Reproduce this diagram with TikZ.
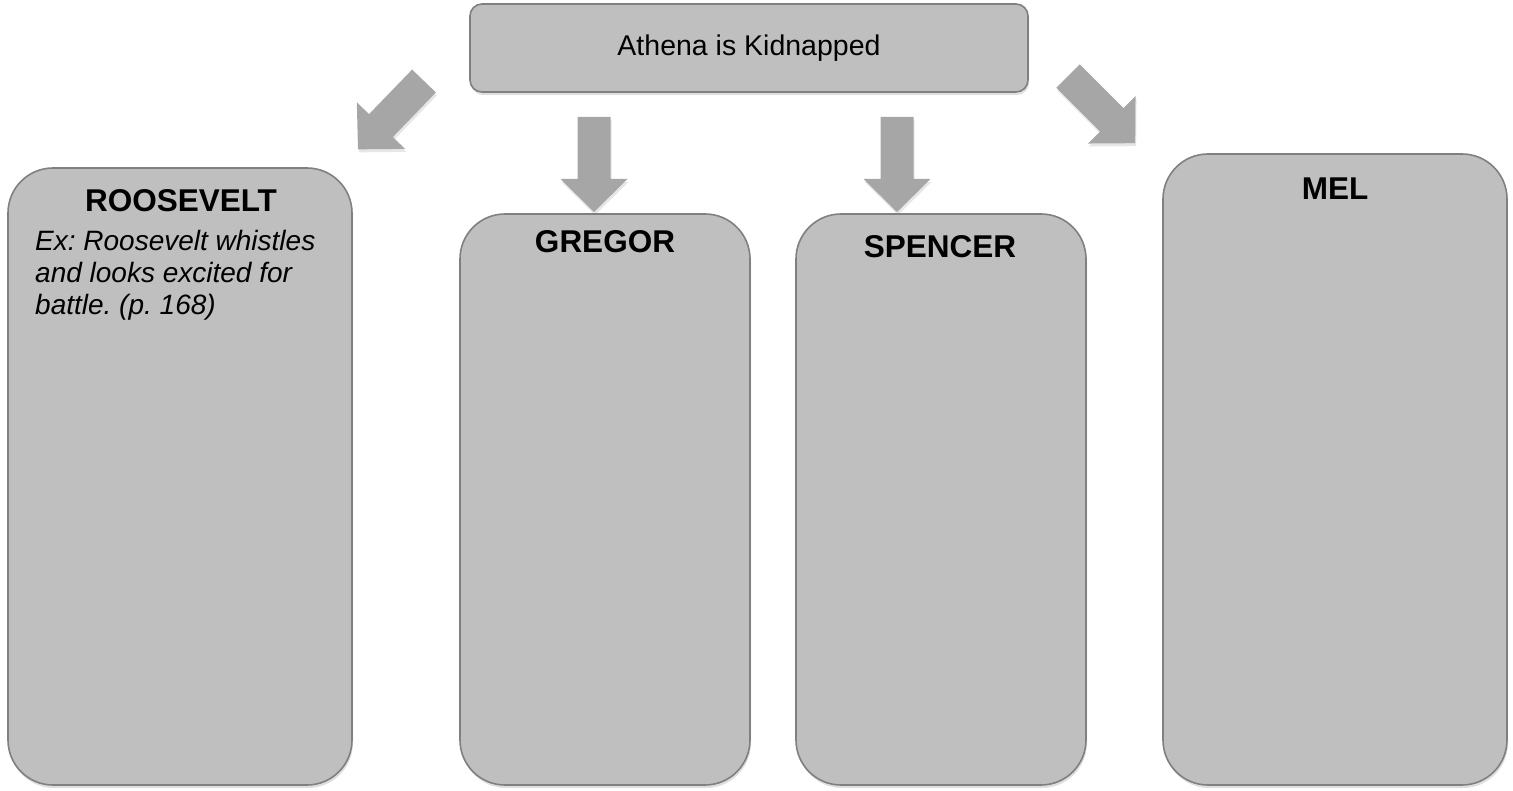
\documentclass[tikz,border=0pt]{standalone}
\usepackage{fontspec}
\setmainfont{Liberation Sans}
\usepackage{tikz}
\usetikzlibrary{shadows}

\definecolor{boxfill}{RGB}{191,191,191}
\definecolor{boxline}{RGB}{128,128,128}
\definecolor{arrowfill}{RGB}{166,166,166}

\tikzset{
  bigarrow/.pic={
    \fill[arrowfill,drop shadow={shadow xshift=1pt,shadow yshift=-3pt,opacity=0.2}]
      (0,-16.5) -- (62,-16.5) -- (62,-33.5) -- (95,0) -- (62,33.5) -- (62,16.5) -- (0,16.5) -- cycle;
  }
}

\begin{document}
\frenchspacing
\begin{tikzpicture}[x=1pt,y=-1pt,
  box/.style={draw=boxline,line width=1.6pt,fill=boxfill,rounded corners=45pt,
    drop shadow={shadow xshift=1pt,shadow yshift=-3pt,opacity=0.25}},
  title/.style={font=\fontsize{31.5}{36}\selectfont\bfseries,anchor=base,inner sep=0pt},
  note/.style={font=\fontsize{28}{32}\selectfont\itshape,align=left,anchor=north west,inner sep=0pt}]
  \useasboundingbox (0,0) rectangle (1513,791);
  % event
  \node[box,rounded corners=12pt,minimum width=558pt,minimum height=88pt,
    font=\fontsize{28.5}{34}\selectfont] (event) at (749,48) {Athena is Kidnapped};
  % characters
  \node[box,minimum width=344pt,minimum height=617pt] (roosevelt) at (180,476.5) {};
  \node[box,minimum width=290pt,minimum height=571pt] (gregor) at (605,499.5) {};
  \node[box,minimum width=290pt,minimum height=571pt] (spencer) at (941,499.5) {};
  \node[box,minimum width=344pt,minimum height=631pt] (mel) at (1335,469.5) {};
  \node[title] (rooseveltname) at (181,212) {ROOSEVELT};
  \node[title] (gregorname) at (605,253) {GREGOR};
  \node[title] (spencername) at (940,258) {SPENCER};
  \node[title] (melname) at (1335,200) {MEL};
  \node[note] (example) at (35,230) {Ex: Roosevelt whistles\\and looks excited for\\battle. (p. 168)};
  % arrows
  \pic[rotate=226] at (424,81) {bigarrow};
  \pic[rotate=-90] at (594,117) {bigarrow};
  \pic[rotate=-90] at (897,117) {bigarrow};
  \pic[rotate=-45] at (1068,76) {bigarrow};
\end{tikzpicture}
\end{document}
